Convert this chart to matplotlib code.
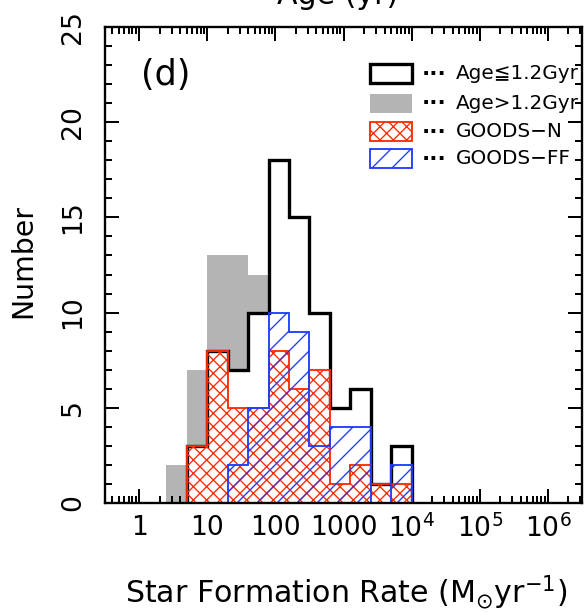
import numpy as np
import matplotlib
matplotlib.use("Agg")
import matplotlib.pyplot as plt
from matplotlib.patches import Rectangle
from matplotlib.ticker import MultipleLocator, LogLocator, NullFormatter, FixedLocator

plt.rcParams['font.family'] = ['DejaVu Sans']
plt.rcParams['mathtext.fontset'] = 'dejavusans'
plt.rcParams['mathtext.default'] = 'regular'
plt.rcParams['hatch.linewidth'] = 0.8

# ---- data (log10 SFR bin edges, counts per bin) ----
log_edges = [0.4, 0.7, 1.0, 1.3, 1.6, 1.9, 2.2, 2.5, 2.8, 3.1, 3.4, 3.7, 4.0]
young_counts = [0, 3, 8, 7, 10, 18, 15, 10, 5, 6, 1, 3]     # Age <= 1.2 Gyr
old_counts = [2, 7, 13, 13, 12, 0, 0, 0, 0, 0, 0, 0]        # Age > 1.2 Gyr
goodsn_counts = [0, 3, 8, 5, 5, 8, 6, 7, 1, 2, 1, 1]        # GOODS-N
goodsff_counts = [0, 0, 0, 2, 5, 10, 9, 3, 4, 4, 0, 2]      # GOODS-FF

xtick_vals = [1, 10, 100, 1000, 1e4, 1e5, 1e6]
xtick_labels = ['1', '10', '100', '1000', '10$^{4}$', '10$^{5}$', '10$^{6}$']
ytick_vals = [0, 5, 10, 15, 20, 25]

legend_labels = ['Age\u22661.2Gyr', 'Age>1.2Gyr', 'GOODS\u2212N', 'GOODS\u2212FF']

RED = '#ff2a00'
BLUE = '#1e3cff'
GRAY = '#b4b4b4'

edges = 10 ** np.array(log_edges)


def trimmed(counts):
    c = np.array(counts, dtype=float)
    nz = np.nonzero(c)[0]
    i0, i1 = nz[0], nz[-1] + 1
    return c[i0:i1], edges[i0:i1 + 1]


fig = plt.figure(figsize=(4.9, 5.1), dpi=120)
ax = fig.add_axes([105 / 588, 1 - 503 / 612, 477 / 588, 476 / 612])

v, e = trimmed(old_counts)
ax.stairs(v, e, fill=True, facecolor=GRAY, edgecolor='none', linewidth=0, zorder=1)
v, e = trimmed(young_counts)
ax.stairs(v, e, fill=True, facecolor='white', edgecolor='black', linewidth=2.0, zorder=2)
v, e = trimmed(goodsn_counts)
ax.stairs(v, e, fill=True, facecolor='none', edgecolor=RED, hatch='xxx', linewidth=1.1, zorder=3)
v, e = trimmed(goodsff_counts)
ax.stairs(v, e, fill=True, facecolor='none', edgecolor=BLUE, hatch='//', linewidth=1.1, zorder=4)

ax.set_xscale('log')
ax.set_xlim(10 ** -0.5, 10 ** 6.5)
ax.set_ylim(0, 25)

ax.xaxis.set_major_locator(FixedLocator(xtick_vals))
ax.set_xticklabels(xtick_labels)
ax.xaxis.set_minor_locator(LogLocator(base=10, subs=np.arange(2, 10), numticks=50))
ax.xaxis.set_minor_formatter(NullFormatter())
ax.set_yticks(ytick_vals)
ax.yaxis.set_minor_locator(MultipleLocator(1))

ax.tick_params(which='both', direction='in', top=True, right=True, width=1.2, colors='black')
ax.tick_params(which='major', length=8.4)
ax.tick_params(which='minor', length=4.0)
ax.tick_params(axis='x', which='major', labelsize=16, pad=7)
ax.tick_params(axis='y', which='major', labelsize=16, pad=19)
for lab in ax.get_yticklabels():
    lab.set_rotation(90)
    lab.set_va('center')
    lab.set_ha('center')
for sp in ax.spines.values():
    sp.set_linewidth(1.4)
    sp.set_zorder(5)

fig.text(346 / 588, 1 - 603 / 612, 'Star Formation Rate (M$_{\\odot}$yr$^{-1}$)',
         ha='center', va='baseline', fontsize=18)
fig.text(23 / 588, 1 - 261 / 612, 'Number', rotation=90, ha='center', va='center', fontsize=17)

fig.text(338 / 588, 1 - 4 / 612, 'Age (yr)', ha='center', va='baseline', fontsize=18)

ax.text(0.128, 0.899, '(d)', transform=ax.transAxes, ha='center', va='center', fontsize=21)

# legend drawn manually
row_y = [0.902, 0.840, 0.780, 0.723]
styles = [dict(facecolor='white', edgecolor='black', linewidth=2.0),
          dict(facecolor=GRAY, edgecolor='none'),
          dict(facecolor='none', edgecolor=RED, hatch='xxx', linewidth=1.1),
          dict(facecolor='none', edgecolor=BLUE, hatch='//', linewidth=1.1)]
pw, ph = 0.088, 0.040
for y, st, lab in zip(row_y, styles, legend_labels):
    ax.add_patch(Rectangle((0.5556, y - ph / 2), pw, ph, transform=ax.transAxes, zorder=6, **st))
    ax.text(0.690, y, '\u00b7\u00b7\u00b7', transform=ax.transAxes, ha='center', va='center',
            fontsize=13, fontweight='bold', zorder=6)
    ax.text(0.736, y, lab, transform=ax.transAxes, ha='left', va='center',
            fontsize=12, zorder=6)

fig.savefig('out.png', dpi=120)
